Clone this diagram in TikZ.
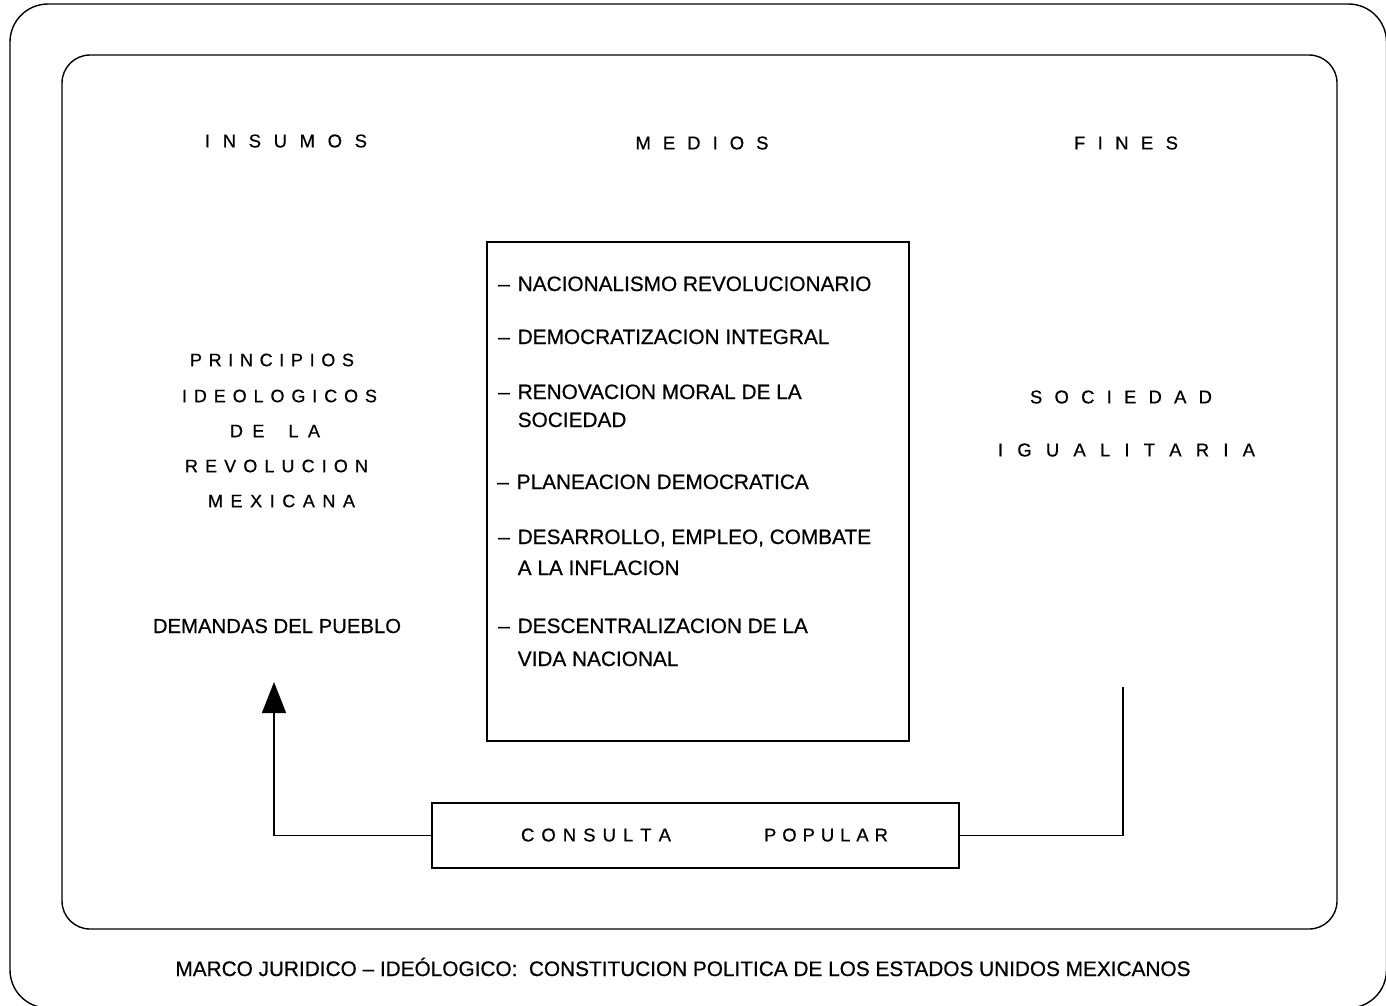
\documentclass[tikz,border=0pt]{standalone}
\usepackage{fontspec}
\setmainfont[FakeBold=0.6]{Liberation Sans}
\usetikzlibrary{arrows.meta}
\makeatletter
\newcommand\spreadtxt[2]{\makebox[#1][s]{\let\sprd@sep\relax\@tfor\sprd@t:=#2\do{\sprd@sep\sprd@t\def\sprd@sep{\hfill}}}}
\makeatother
\tikzset{
  frame/.style={draw, line width=1.4pt},
  box/.style={draw, line width=1.5pt, inner sep=0pt},
  wire/.style={draw, line width=1.5pt},
  head/.style={inner sep=0pt, font=\fontsize{18.5}{22}\selectfont},
  spread/.style={inner sep=0pt, font=\fontsize{18}{22}\selectfont},
  item/.style={anchor=base west, align=left, inner sep=0pt, font=\fontsize{20.8}{30}\selectfont},
}
\begin{document}
\begin{tikzpicture}[x=1pt,y=-1pt]
\useasboundingbox (0,0) rectangle (1386,1005);
% frames
\draw[frame, rounded corners=38pt] (10,4) rectangle (1386.5,1008);
\draw[frame, rounded corners=28pt] (62,55) rectangle (1337,929);
% headings
\node[head] (insumos) at (286,141) {\spreadtxt{162pt}{INSUMOS}};
\node[head] (medios) at (702,143) {\spreadtxt{133pt}{MEDIOS}};
\node[head] (fines) at (1126,143) {\spreadtxt{104pt}{FINES}};
% left column
\node[spread] (p1) at (272,360) {\spreadtxt{164pt}{PRINCIPIOS}};
\node[spread] (p2) at (279.5,396) {\spreadtxt{195pt}{IDEOLOGICOS}};
\node[spread] (p3) at (275,431) {\spreadtxt{90pt}{DE~LA}};
\node[spread] (p4) at (276.5,466) {\spreadtxt{183pt}{REVOLUCION}};
\node[spread] (p5) at (281.5,501) {\spreadtxt{147pt}{MEXICANA}};
\node[inner sep=0pt, font=\fontsize{20.3}{24}\selectfont] (dem) at (277,626) {DEMANDAS DEL PUEBLO};
% right column
\node[spread, font=\fontsize{18.5}{22}\selectfont] (s1) at (1121,397) {\spreadtxt{182pt}{SOCIEDAD}};
\node[spread, font=\fontsize{18.5}{22}\selectfont] (s2) at (1126.5,450) {\spreadtxt{257pt}{IGUALITARIA}};
% middle box
\node[box, minimum width=422pt, minimum height=499pt] (med) at (698,491.5) {};
\node[item] (m1) at (498,291) {–\kern8pt NACIONALISMO REVOLUCIONARIO};
\node[item] (m2) at (498,344) {–\kern8pt DEMOCRATIZACION INTEGRAL};
\node[item] (m3) at (498,427) {–\kern8pt RENOVACION MORAL DE LA\\[-2pt]\hphantom{–\kern8pt}SOCIEDAD};
\node[item] (m4) at (497,489) {–\kern8pt PLANEACION DEMOCRATICA};
\node[item] (m5) at (498,575) {–\kern8pt DESARROLLO, EMPLEO, COMBATE\\[1pt]\hphantom{–\kern8pt}A LA INFLACION};
\node[item] (m6) at (498,666) {–\kern8pt DESCENTRALIZACION DE LA\\[3pt]\hphantom{–\kern8pt}VIDA NACIONAL};
% consulta popular
\node[box, minimum width=527pt, minimum height=65pt] (cp) at (695.5,835.5) {};
\node[spread, font=\fontsize{18.5}{22}\selectfont] (cp1) at (596,835) {\spreadtxt{150pt}{CONSULTA}};
\node[spread, font=\fontsize{18.5}{22}\selectfont] (cp2) at (826,835) {\spreadtxt{124pt}{POPULAR}};
% connectors
\coordinate (ltip) at (274,682);
\coordinate (rtop) at (1123,687);
\draw[wire, -{Triangle[length=31pt,width=24pt]}] (cp.west) -| (ltip);
\draw[wire] (cp.east) -| (rtop);
% caption
\node[anchor=base, inner sep=0pt] (cap) at (683,976) {\resizebox{1015pt}{\height}{\fontsize{21}{24}\selectfont MARCO JURIDICO – IDEÓLOGICO:\ \ CONSTITUCION POLITICA DE LOS ESTADOS UNIDOS MEXICANOS}};
\end{tikzpicture}
\end{document}
